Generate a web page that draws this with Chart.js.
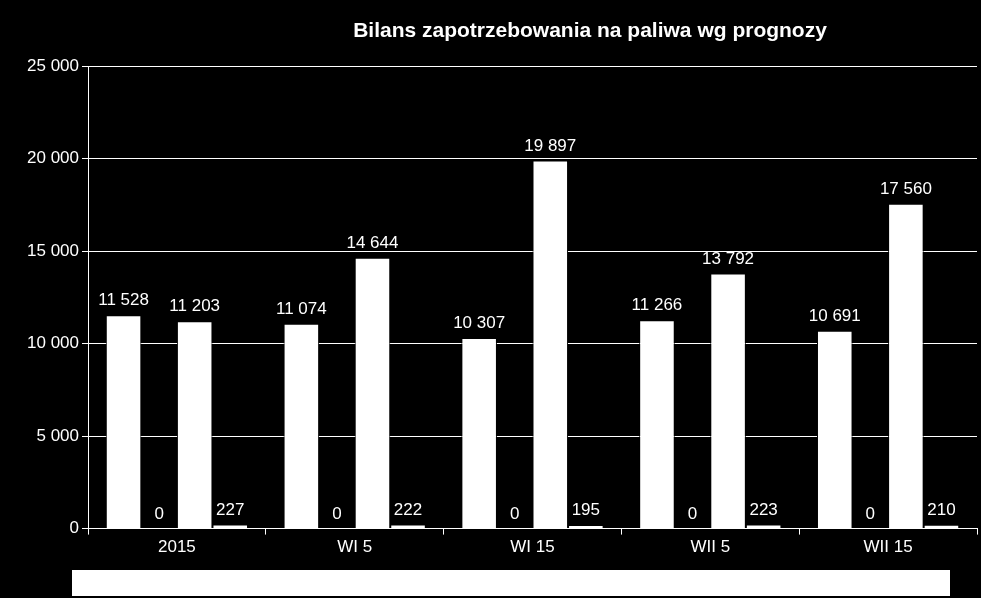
<!DOCTYPE html>
<html>
<head>
<meta charset="utf-8">
<script src="https://cdn.jsdelivr.net/npm/chart.js@4"></script>
<style>
  html, body { margin: 0; padding: 0; background: #000; }
  #wrap { width: 981px; height: 598px; }
</style>
</head>
<body>
<div id="wrap"><canvas id="myChart"></canvas></div>
<script>
const categories = ["2015", "WI 5", "WI 15", "WII 5", "WII 15"];
const series1 = [11528, 11074, 10307, 11266, 10691];
const series2 = [0, 0, 0, 0, 0];
const series3 = [11203, 14644, 19897, 13792, 17560];
const series4 = [227, 222, 195, 223, 210];
const titleText = "Bilans zapotrzebowania na paliwa wg prognozy";

const fmt = (v) => String(v).replace(/\B(?=(\d{3})+(?!\d))/g, " ");

const valueLabels = {
  id: "valueLabels",
  afterDatasetsDraw(chart) {
    const ctx = chart.ctx;
    ctx.save();
    ctx.fillStyle = "#fff";
    ctx.font = "17px 'Liberation Sans', Arial, sans-serif";
    ctx.textAlign = "center";
    ctx.textBaseline = "bottom";
    chart.data.datasets.forEach((ds, i) => {
      chart.getDatasetMeta(i).data.forEach((bar, j) => {
        ctx.fillText(fmt(ds.data[j]), bar.x, bar.y - 6);
      });
    });
    // title, placed like the original
    ctx.font = "bold 21px 'Liberation Sans', Arial, sans-serif";
    ctx.textBaseline = "middle";
    ctx.fillText(titleText, 590, 31);
    // empty legend box
    ctx.fillRect(72, 570, 878, 26);
    ctx.restore();
  },
};

const ctx = document.getElementById("myChart").getContext("2d");
const myChart = new Chart(ctx, {
  type: "bar",
  data: {
    labels: categories,
    datasets: [
      { label: "s1", data: series1 },
      { label: "s2", data: series2 },
      { label: "s3", data: series3 },
      { label: "s4", data: series4 },
    ].map((d) => ({ ...d, backgroundColor: "#fff", borderColor: "#000", borderWidth: 1, categoryPercentage: 0.8, barPercentage: 1 })),
  },
  plugins: [valueLabels],
  options: {
    responsive: true,
    maintainAspectRatio: false,
    animation: false,
    layout: { padding: { top: 66, right: 4, bottom: 37, left: 0 } },
    plugins: {
      legend: { display: false },
      tooltip: { enabled: false },
    },
    scales: {
      x: {
        grid: { color: "#fff", drawOnChartArea: false, tickLength: 6 },
        border: { color: "#fff" },
        ticks: { color: "#fff", font: { family: "'Liberation Sans', Arial", size: 17 } },
      },
      y: {
        min: 0,
        max: 25000,
        afterFit: (s) => { s.width = 88; },
        grid: { color: "#fff", tickLength: 6 },
        border: { color: "#fff" },
        ticks: {
          stepSize: 5000,
          color: "#fff",
          font: { family: "'Liberation Sans', Arial", size: 17 },
          callback: (v) => fmt(v),
        },
      },
    },
  },
});
</script>
</body>
</html>
